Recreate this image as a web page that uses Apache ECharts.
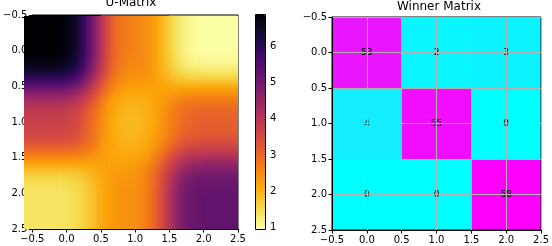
<!DOCTYPE html>
<html><head><meta charset="utf-8">
<script src="https://cdn.jsdelivr.net/npm/echarts@6/dist/echarts.min.js"></script>
<style>
html,body{margin:0;padding:0;background:#fff;overflow:hidden;width:552px;height:246px;}
#main{position:absolute;left:0;top:0;width:552px;height:246px;}
#ovl{position:absolute;left:24px;top:16px;width:214px;height:213px;overflow:hidden;pointer-events:none;}
#ovlInner{position:absolute;left:-81px;top:-81px;width:375px;height:374px;filter:url(#cmap);}
</style></head><body>
<svg width="0" height="0" style="position:absolute;left:0;top:0">
  <filter id="cmap" x="0" y="0" width="1" height="1" color-interpolation-filters="sRGB">
    <feGaussianBlur stdDeviation="16"/>
    <feComponentTransfer>
      <feFuncR id="fR" type="table" tableValues="0 1"/>
      <feFuncG id="fG" type="table" tableValues="0 1"/>
      <feFuncB id="fB" type="table" tableValues="0 1"/>
    </feComponentTransfer>
  </filter>
</svg>
<div id="main"></div>
<div id="ovl"><div id="ovlInner"></div></div>
<script>
// ---- data ----
const xCats = [0, 1, 2];
const yCats = [0, 1, 2];
const uMatrix = [
  [6.88, 2.6, 0.96],
  [3.7, 1.9, 3.1],
  [1.35, 2.4, 5.2]
];
const winnerCounts = [
  [53, 2, 3],
  [4, 55, 0],
  [0, 0, 58]
];
const colorbarTicks = [1, 2, 3, 4, 5, 6];
const uMin = 0.96, uMax = 6.88;
const wMin = 0, wMax = 58;

// ---- styles ----
const infernoR = ['#fcffa4','#f6d746','#fca50a','#f37819','#dd513a','#bc3754','#932667','#6a176e','#420a68','#160b39','#000004'];
const coolColors = ['#00ffff', '#ff00ff'];
const font = 'DejaVu Sans';

// colormap lookup tables for the smoothing overlay filter
['fR','fG','fB'].forEach((id, c) => {
  document.getElementById(id).setAttribute('tableValues',
    infernoR.map(h => (parseInt(h.substr(1 + 2 * c, 2), 16) / 255).toFixed(4)).join(' '));
});

function toData(mat) {
  const out = [];
  yCats.forEach((y, i) => xCats.forEach((x, j) => out.push([x, y, mat[i][j]])));
  return out;
}
const uData = toData(uMatrix);
const wData = toData(winnerCounts);

function cellRect(api, ext) {
  const x = api.value(0), y = api.value(1);
  const p0 = api.coord([x - 0.5, y - 0.5]);
  const p1 = api.coord([x + 0.5, y + 0.5]);
  let x0 = Math.min(p0[0], p1[0]), x1 = Math.max(p0[0], p1[0]);
  let y0 = Math.min(p0[1], p1[1]), y1 = Math.max(p0[1], p1[1]);
  if (ext) {
    if (x === xCats[0]) x0 -= ext;
    if (x === xCats[xCats.length - 1]) x1 += ext;
    if (y === yCats[0]) y0 -= ext;
    if (y === yCats[yCats.length - 1]) y1 += ext;
  }
  return { x: x0, y: y0, width: x1 - x0, height: y1 - y0 };
}

const fmt = v => (v < 0 ? '\u2212' : '') + Math.abs(v).toFixed(1);
const labelStyle = { color: '#000', fontSize: 10, fontFamily: font };

function posAxis(gridIndex, isY, grid) {
  return {
    gridIndex, type: 'value', min: -0.5, max: 2.5, interval: 0.5,
    inverse: isY, position: isY ? 'left' : 'bottom',
    axisLine: { show: true, onZero: false, lineStyle: { color: '#000', width: 1 } },
    axisTick: { show: true, length: 3.5, lineStyle: { color: '#000', width: 1 } },
    axisLabel: Object.assign({ formatter: fmt, margin: isY ? 5 : 5 }, labelStyle),
    splitLine: { show: grid, lineStyle: { color: '#b0b0b0', width: 1 } }
  };
}

const chart = echarts.init(document.getElementById('main'));
chart.setOption({
  animation: false,
  backgroundColor: '#fff',
  title: [
    { text: 'U-Matrix', left: 131, top: -3, textAlign: 'center', padding: 0,
      textStyle: { fontSize: 12, fontWeight: 'normal', color: '#000', fontFamily: font } },
    { text: 'Winner Matrix', left: 439, top: 1, textAlign: 'center', padding: 0,
      textStyle: { fontSize: 12, fontWeight: 'normal', color: '#000', fontFamily: font } }
  ],
  grid: [
    { left: 23, top: 15, width: 215, height: 214, show: true, borderColor: '#000', borderWidth: 1, backgroundColor: 'transparent' },
    { left: 332, top: 17, width: 213, height: 213, show: true, borderColor: '#000', borderWidth: 1, backgroundColor: 'transparent' },
    { left: 255, top: 14, width: 10, height: 215, show: false }
  ],
  xAxis: [
    posAxis(0, false, false),
    posAxis(1, false, true),
    { gridIndex: 2, type: 'value', show: false }
  ],
  yAxis: [
    posAxis(0, true, false),
    posAxis(1, true, true),
    { gridIndex: 2, type: 'value', min: uMin, max: uMax, position: 'right',
      axisLine: { show: false },
      axisTick: { show: true, length: 3.5, customValues: colorbarTicks, lineStyle: { color: '#000' } },
      axisLabel: Object.assign({ customValues: colorbarTicks, formatter: v => String(Math.round(v)), margin: 5 }, labelStyle),
      splitLine: { show: false } }
  ],
  visualMap: [
    { type: 'continuous', seriesIndex: 0, dimension: 2, min: uMin, max: uMax,
      inRange: { color: infernoR }, left: 255, top: 14, itemWidth: 10, itemHeight: 215,
      padding: 0, calculable: false, hoverLink: false, z: 1 },
    { type: 'continuous', seriesIndex: 1, dimension: 2, min: wMin, max: wMax, show: false,
      inRange: { color: coolColors } }
  ],
  graphic: [
    { type: 'rect', z: 100, shape: { x: 255.5, y: 14.5, width: 10, height: 215 },
      style: { fill: 'none', stroke: '#000', lineWidth: 1 } }
  ],
  series: [
    { type: 'custom', xAxisIndex: 0, yAxisIndex: 0, data: uData, z: -1,
      renderItem: (params, api) => ({ type: 'rect', shape: cellRect(api, 0), style: { fill: api.visual('color') } }) },
    { type: 'custom', xAxisIndex: 1, yAxisIndex: 1, data: wData, z: -1,
      renderItem: (params, api) => {
        const r = cellRect(api, 0);
        return { type: 'group', children: [
          { type: 'rect', shape: r, style: { fill: api.visual('color') } },
          { type: 'text', style: { text: String(api.value(2)), x: r.x + r.width / 2, y: r.y + r.height / 2,
              align: 'center', verticalAlign: 'middle', fontSize: 9, fontFamily: font, fill: '#000' } }
        ] };
      } }
  ]
});

// smoothed rendering overlay of the U-Matrix (value encoded as grey, mapped to colours by the filter)
const P = 80;
const overlay = echarts.init(document.getElementById('ovlInner'));
overlay.setOption({
  animation: false,
  backgroundColor: 'transparent',
  grid: { left: P, top: P, width: 215, height: 214 },
  xAxis: { type: 'value', min: -0.5, max: 2.5, show: false },
  yAxis: { type: 'value', min: -0.5, max: 2.5, inverse: true, show: false },
  visualMap: { type: 'continuous', show: false, dimension: 2, min: uMin, max: uMax, inRange: { color: ['#000000', '#ffffff'] } },
  series: [{ type: 'custom', data: uData, clip: false,
    renderItem: (params, api) => ({ type: 'rect', shape: cellRect(api, P), style: { fill: api.visual('color') } }) }]
});
</script>
</body></html>
